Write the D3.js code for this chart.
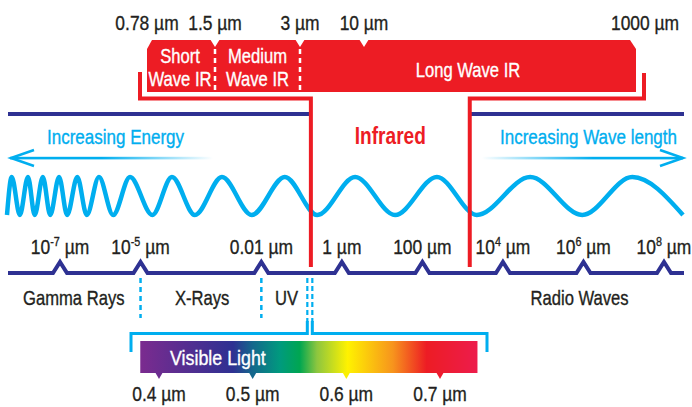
<!DOCTYPE html>
<html><head><meta charset="utf-8">
<script src="https://cdn.jsdelivr.net/npm/d3@7"></script>
<style>
body{margin:0;background:#fff;}
svg{display:block;font-family:"Liberation Sans",Arial,sans-serif;}
</style></head>
<body>
<svg id="c" width="692" height="407"></svg>
<script>
// ---------- data ----------
const axisTicks = [1e-7, 1e-5, 0.01, 1, 100, 1e4, 1e6, 1e8];          // µm
const tickBase  = ["10", "10", "0.01", "1", "100", "10", "10", "10"];
const tickExp   = ["-7", "-5", "", "", "", "4", "6", "8"];
const categories   = ["Gamma Rays", "X-Rays", "UV", "Radio Waves"];
const categoryPos  = [2.2e-7, 3.4e-4, 0.042, 8e5];                     // µm (label centres)
const bandBounds   = [1e-5, 0.01];                                     // dashed separators
const visibleOnAxis = 0.16;                                            // schematic position of visible band
const irOnAxis     = [0.17, 1500];                                     // schematic IR span on axis

const irBounds = [0.78, 1.5, 3, 10, 1000];
const irLabels = ["0.78 µm", "1.5 µm", "3 µm", "10 µm", "1000 µm"];
const irBands  = [["Short", "Wave IR"], ["Medium", "Wave IR"], ["Long Wave IR"]];

const visTicks  = [0.4, 0.5, 0.6, 0.7];
const visLabels = ["0.4 µm", "0.5 µm", "0.6 µm", "0.7 µm"];
const visDomain = [0.38, 0.74];

// wave extrema (percent along the wave), alternating trough / crest
const waveExtrema = [0, 0.7, 1.9, 3.1, 4.1, 5.3, 6.4, 7.7, 8.9, 10.4, 11.8, 13.6, 15.7, 18.2,
  21.5, 24.4, 27.8, 31.8, 36.2, 41.1, 45.9, 51.5, 57.4, 63.6, 69.5, 77.4, 85.1, 92.5, 100];

// ---------- style ----------
const RED = "#ED1C24", NAVY = "#2E3192", BLUE = "#00AEEF", INK = "#231F20";
const SX = 0.83; // horizontal condensing of text
const svg = d3.select("#c");
const defs = svg.append("defs");

function txt(x, y, size, anchor, fill, sx = SX) {
  return svg.append("text")
    .attr("transform", `translate(${x},${y}) scale(${sx},1)`)
    .attr("font-size", size).attr("text-anchor", anchor).attr("fill", fill)
    .attr("stroke", fill).attr("stroke-width", 0.35);
}

// ---------- scales ----------
const x = d3.scaleLog().domain([1e-7, 1e8]).range([60, 664]);
const irX = d3.scaleLog().domain(irBounds).range([147, 215, 300, 364, 645]);
const visX = d3.scaleLinear().domain([0.4, 0.7]).range([159, 440]);
const waveX = d3.scaleLinear().domain([0, 100]).range([7, 683]);
const waveY = d3.scaleLinear().domain([-1, 1]).range([215, 177]);

// ---------- IR box ----------
const bl = irX(0.78), br = irX(1000) - 9, bt = 40, bb = 92;
svg.append("path")
  .attr("d", `M${bl+5},${bt}H${br-6}L${br},${bt+9}V${bb}H${bl}V${bt+9}Z`)
  .attr("fill", RED);
[1.5, 3, 10].forEach(v => {
  const cx = irX(v);
  svg.append("path").attr("d", `M${cx-5},${bt-1}H${cx+5}L${cx},${bt+7}Z`).attr("fill", "#fff");
});
[1.5, 3].forEach(v => {
  svg.append("line").attr("x1", irX(v)).attr("x2", irX(v)).attr("y1", bt+9).attr("y2", bb)
    .attr("stroke", "#fff").attr("stroke-width", 2.5).attr("stroke-dasharray", "5,4");
});
const bandCenters = [(irX(0.78)+irX(1.5))/2 - 1, (irX(1.5)+irX(3))/2, (irX(3)+br)/2];
irBands.forEach((lines, i) => {
  const t = txt(bandCenters[i], 0, 20, "middle", "#fff");
  if (lines.length === 2) {
    t.append("tspan").attr("x", 0).attr("y", 63).text(lines[0]);
    t.append("tspan").attr("x", 0).attr("y", 86).text(lines[1]);
  } else {
    t.attr("transform", `translate(${bandCenters[i]},77) scale(${SX},1)`).text(lines[0]);
  }
});
irBounds.forEach((v, i) => {
  txt(irX(v), 30, 21, "middle", INK).text(irLabels[i]);
});

// ---------- navy top line ----------
const rx0 = x(irOnAxis[0]), rx1 = x(irOnAxis[1]);
svg.append("line").attr("x1", 8).attr("x2", rx0).attr("y1", 114).attr("y2", 114)
  .attr("stroke", NAVY).attr("stroke-width", 4);
svg.append("line").attr("x1", rx1).attr("x2", 684).attr("y1", 114).attr("y2", 114)
  .attr("stroke", NAVY).attr("stroke-width", 4);

// ---------- arrows & labels ----------
const gL = defs.append("linearGradient").attr("id", "gL").attr("gradientUnits", "userSpaceOnUse")
  .attr("x1", 10).attr("x2", 213).attr("y1", 0).attr("y2", 0);
gL.append("stop").attr("offset", 0).attr("stop-color", BLUE);
gL.append("stop").attr("offset", 0.45).attr("stop-color", BLUE);
gL.append("stop").attr("offset", 1).attr("stop-color", "#fff");
const gR = defs.append("linearGradient").attr("id", "gR").attr("gradientUnits", "userSpaceOnUse")
  .attr("x1", 482).attr("x2", 684).attr("y1", 0).attr("y2", 0);
gR.append("stop").attr("offset", 0).attr("stop-color", "#fff");
gR.append("stop").attr("offset", 0.55).attr("stop-color", BLUE);
gR.append("stop").attr("offset", 1).attr("stop-color", BLUE);
svg.append("rect").attr("x", 10).attr("y", 156.8).attr("width", 203).attr("height", 2.6).attr("fill", "url(#gL)");
svg.append("rect").attr("x", 482).attr("y", 156.8).attr("width", 201).attr("height", 2.6).attr("fill", "url(#gR)");
svg.append("path").attr("d", "M34,150L11,158L34,166").attr("fill", "none").attr("stroke", BLUE).attr("stroke-width", 2.5);
svg.append("path").attr("d", "M660,150L683,158L660,166").attr("fill", "none").attr("stroke", BLUE).attr("stroke-width", 2.5);

txt(47, 144, 21, "start", BLUE, 0.81).text("Increasing Energy");
txt(677, 144, 21, "end", BLUE, 0.81).text("Increasing Wave length");
txt((rx0 + rx1) / 2, 144, 23, "middle", RED).attr("font-weight", "bold").attr("stroke-width", 0).text("Infrared");

// ---------- wave ----------
const wavePts = waveExtrema.map((p, i) => [waveX(p), waveY(i % 2 === 0 ? -1 : 1)]);
svg.append("path").datum(wavePts)
  .attr("d", d3.line().curve(d3.curveMonotoneX))
  .attr("fill", "none").attr("stroke", BLUE).attr("stroke-width", 4.5).attr("stroke-linecap", "butt");

// ---------- red IR bracket ----------
svg.append("path").attr("d", `M${bl-7},72V98.5H${rx0}V267`)
  .attr("fill", "none").attr("stroke", RED).attr("stroke-width", 4);
svg.append("path").attr("d", `M${irX(1000)-1},73V98.5H${rx1}V267`)
  .attr("fill", "none").attr("stroke", RED).attr("stroke-width", 4);

// ---------- bottom axis ----------
const axY = 273;
const axPts = [[8, axY]];
axisTicks.forEach(v => { const tx = x(v); axPts.push([tx-7, axY], [tx, axY-11], [tx+7, axY]); });
axPts.push([684, axY]);
svg.append("path").datum(axPts).attr("d", d3.line())
  .attr("fill", "none").attr("stroke", NAVY).attr("stroke-width", 4).attr("stroke-linejoin", "miter");

axisTicks.forEach((v, i) => {
  const t = txt(x(v), 254, 21, "middle", INK);
  t.append("tspan").text(tickBase[i]);
  if (tickExp[i]) {
    t.append("tspan").attr("font-size", 13).attr("dy", -8).text(tickExp[i]);
    t.append("tspan").attr("dy", 8).text(" µm");
  } else {
    t.append("tspan").text(" µm");
  }
});
categories.forEach((c, i) => {
  txt(x(categoryPos[i]), 305, 20, "middle", INK).text(c);
});
bandBounds.forEach(v => {
  svg.append("line").attr("x1", x(v)).attr("x2", x(v)).attr("y1", 278).attr("y2", 318)
    .attr("stroke", BLUE).attr("stroke-width", 2.5).attr("stroke-dasharray", "5,4");
});

// ---------- visible light bracket ----------
const vx = x(visibleOnAxis);
[-2.5, 2.5].forEach(d => {
  svg.append("line").attr("x1", vx+d).attr("x2", vx+d).attr("y1", 278).attr("y2", 322)
    .attr("stroke", BLUE).attr("stroke-width", 2.2).attr("stroke-dasharray", "5,3");
});
svg.append("path").attr("d", `M131,352V333.5H${vx-2.5}V321`).attr("fill", "none").attr("stroke", BLUE).attr("stroke-width", 3);
svg.append("path").attr("d", `M487,352V333.5H${vx+2.5}V321`).attr("fill", "none").attr("stroke", BLUE).attr("stroke-width", 3);

// spectrum bar
const specStops = [
  [0.00, "#7B2B8F"], [0.275, "#2E3192"], [0.334, "#14688C"], [0.414, "#009A7E"],
  [0.473, "#00A651"], [0.524, "#8DC63F"], [0.615, "#FFF200"], [0.749, "#F7941D"],
  [0.849, "#ED1C24"], [1.00, "#ED1C4C"]];
const grad = defs.append("linearGradient").attr("id", "spec");
specStops.forEach(s => grad.append("stop").attr("offset", s[0]).attr("stop-color", s[1]));
const barL = visX(visDomain[0]), barR = visX(visDomain[1]);
svg.append("rect").attr("x", barL).attr("y", 341).attr("width", barR - barL).attr("height", 32)
  .attr("fill", "url(#spec)");
txt(170, 365, 21, "start", "#fff", 0.85).text("Visible Light");

const specColor = d3.scaleLinear().domain(specStops.map(s => barL + s[0] * (barR - barL)))
  .range(specStops.map(s => s[1])).interpolate(d3.interpolateRgb);
visTicks.forEach((v, i) => {
  const tx = visX(v);
  svg.append("path").attr("d", `M${tx-4},372H${tx+4}L${tx},379Z`).attr("fill", specColor(tx));
  txt(tx, 401, 21, "middle", INK).text(visLabels[i]);
});
</script>
</body></html>
